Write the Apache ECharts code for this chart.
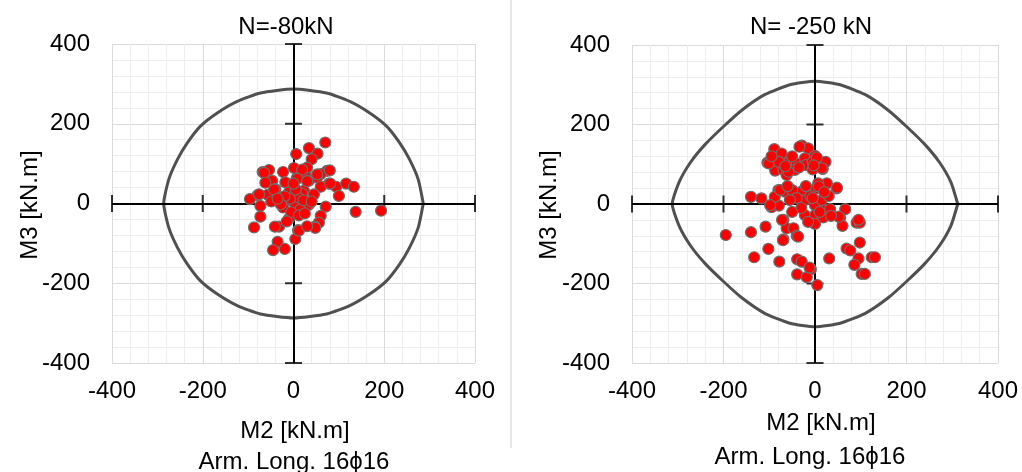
<!DOCTYPE html>
<html><head><meta charset="utf-8">
<script src="https://cdn.jsdelivr.net/npm/echarts@6/dist/echarts.min.js"></script>
<style>html,body{margin:0;padding:0;background:#fff}#c{width:1022px;height:472px}</style>
</head><body><div id="c"></div>
<script>
// ---- text ----
const titles = ['N=-80kN', 'N= -250 kN'];
const xName = 'M2 [kN.m]';
const yName = 'M3 [kN.m]';
const note = 'Arm. Long. 16\u03d516';
// ---- axis ----
const axisMin = -400, axisMax = 400, axisStep = 200;
const tickVals = [-400, -200, 200, 400];
// ---- interaction curves (M2, M3) ----
const curveA = [[286,0],[275,60],[256,110],[234,152],[205,194],[168,227],[124,256],[73,277],[0,287],
  [-73,277],[-124,256],[-168,227],[-205,194],[-234,152],[-256,110],[-275,60],[-286,0],
  [-275,-60],[-256,-110],[-234,-152],[-205,-194],[-168,-227],[-124,-256],[-73,-277],[0,-287],
  [73,-277],[124,-256],[168,-227],[205,-194],[234,-152],[256,-110],[275,-60],[286,0]];
const curveB = [[312,0],[297,55],[272,105],[240,150],[200,195],[160,236],[110,275],[55,300],[0,309],
  [-55,300],[-110,275],[-160,236],[-200,195],[-240,150],[-272,105],[-297,55],[-312,0],
  [-297,-55],[-272,-105],[-240,-150],[-200,-195],[-160,-236],[-110,-275],[-55,-300],[0,-309],
  [55,-300],[110,-275],[160,-236],[200,-195],[240,-150],[272,-105],[297,-55],[312,0]];
// ---- demand points (M2, M3) ----
const pointsA = [[6,124],[-54,84],[-68,79],[-23,79],[-60,54],[-47,57],[-18,53],[1,89],[7,63],[-40,36],
  [-57,22],[-79,21],[-96,11],[-73,-6],[-49,5],[-10,28],[1,3],[-23,-10],[-73,-33],[-87,-60],
  [-32,-58],[-41,-58],[-10,-38],[10,-67],[4,-89],[-35,-96],[-45,-117],[-19,-114],[26,74],[23,32],
  [34,139],[70,153],[53,125],[40,111],[74,82],[60,74],[34,57],[52,65],[78,50],[94,42],
  [116,50],[133,42],[100,19],[60,42],[45,23],[71,-8],[34,-3],[137,-21],[193,-18],[60,-31],
  [56,-48],[47,-58],[30,90],[19,85],[-65,77],[8,62],[30,56],[52,73],[80,83],[81,50],
  [-62,52],[-43,35],[19,25],[-76,23],[30,-5],[12,-68],[48,-61],[30,-57],[10,15],[-8,12],
  [15,-15],[-5,-22],[22,8],[-20,18],[5,35],[40,5],[-28,-2],[12,-30],[-15,-45],[25,-25],[0,50],[-35,12]];
const pointsB = [[-89,138],[-73,127],[-29,147],[-15,140],[-104,104],[-82,106],[-58,104],[-40,102],[-22,115],[0,121],
  [-20,98],[-5,106],[23,106],[-87,84],[-69,86],[-44,86],[-5,87],[17,88],[-62,73],[-34,144],
  [-101,102],[-79,106],[-58,81],[4,117],[15,90],[-3,97],[-50,120],[-65,95],[-35,92],[-95,120],
  [-140,18],[-117,14],[-95,-8],[-79,-4],[-80,35],[-66,31],[-47,31],[-29,31],[2,39],[26,52],
  [47,39],[7,52],[-22,10],[0,-3],[18,-15],[33,-13],[66,-13],[55,-34],[60,-55],[91,-47],
  [98,-47],[-69,-40],[-62,-61],[-47,-61],[-40,-80],[-69,-89],[-22,-28],[0,-28],[0,-50],[18,-34],
  [-88,18],[-98,-3],[-76,35],[-50,35],[8,44],[48,41],[52,-32],[95,-40],[-72,-40],[-37,-82],
  [-10,20],[-40,15],[-55,10],[15,10],[30,20],[-30,-10],[-15,-45],[-50,-20],[20,30],[-60,45],
  [-20,45],[35,-30],[-5,15],[10,-20],
  [-195,-78],[-140,-71],[-108,-57],[-102,-113],[-133,-134],[-78,-145],[-39,-139],[-29,-145],[-9,-164],[-39,-177],
  [-18,-184],[5,-204],[31,-137],[69,-112],[77,-117],[98,-97],[95,-137],[86,-153],[124,-134],[131,-134],
  [102,-176],[109,-176],[-70,-91],[-12,-160]];

const FONT = '"Liberation Sans", Arial, sans-serif';
const grids = [
  {left: 112, top: 44, width: 363, height: 319},
  {left: 632, top: 45, width: 366, height: 318}
];
function axis(gi, margin) {
  return {
    type: 'value', gridIndex: gi, min: axisMin, max: axisMax, interval: axisStep,
    axisLine: {show: false}, axisTick: {show: false},
    axisLabel: {fontSize: 24, color: '#000', fontFamily: FONT, margin: margin},
    splitLine: {show: true, lineStyle: {color: '#d9d9d9', width: 1}},
    minorTick: {show: false, splitNumber: 5},
    minorSplitLine: {show: true, lineStyle: {color: '#eeeeee', width: 1}}
  };
}
const series = [];
[[curveA, pointsA], [curveB, pointsB]].forEach(([curve, pts], gi) => {
  series.push({
    type: 'scatter', xAxisIndex: gi, yAxisIndex: gi, silent: true, z: 3,
    symbol: 'rect', symbolSize: [2, 17], itemStyle: {color: '#000'},
    data: tickVals.map(v => [v, 0]),
    markLine: {silent: true, symbol: ['none', 'none'], label: {show: false},
      lineStyle: {color: '#000', width: 2, type: 'solid'},
      data: [{xAxis: 0}, {yAxis: 0}]}
  });
  series.push({
    type: 'scatter', xAxisIndex: gi, yAxisIndex: gi, silent: true, z: 3,
    symbol: 'rect', symbolSize: [17, 2], itemStyle: {color: '#000'},
    data: tickVals.map(v => [0, v])
  });
  series.push({
    type: 'line', xAxisIndex: gi, yAxisIndex: gi, silent: true, z: 4,
    data: curve, showSymbol: false, smooth: 0.2,
    lineStyle: {color: '#505050', width: 3}
  });
  series.push({
    type: 'scatter', xAxisIndex: gi, yAxisIndex: gi, z: 5,
    data: pts, symbol: 'circle', symbolSize: 11,
    itemStyle: {color: '#ff0000', borderColor: '#6e6e6e', borderWidth: 1.2, opacity: 1}
  });
});
function txt(x, y, s, rot) {
  return {type: 'text', x: x, y: y, rotation: rot || 0, z: 10,
    style: {text: s, fontSize: 24, fontFamily: FONT, fill: '#000', align: 'center', verticalAlign: 'middle'}};
}
const chart = echarts.init(document.getElementById('c'), null, {renderer: 'canvas'});
chart.setOption({
  animation: false,
  backgroundColor: '#fff',
  grid: grids,
  xAxis: [axis(0, 16), axis(1, 16)],
  yAxis: [axis(0, 22), axis(1, 22)],
  series: series,
  graphic: [
    {type: 'line', shape: {x1: 511, y1: 0, x2: 511, y2: 448}, style: {stroke: '#cfcfcf', lineWidth: 1}},
    txt(286, 27, titles[0]), txt(811, 27, titles[1]),
    txt(295, 431, xName), txt(821, 423, xName),
    txt(294, 462, note), txt(810, 457, note),
    txt(30, 205, yName, Math.PI / 2), txt(549, 205, yName, Math.PI / 2)
  ]
});
</script></body></html>
